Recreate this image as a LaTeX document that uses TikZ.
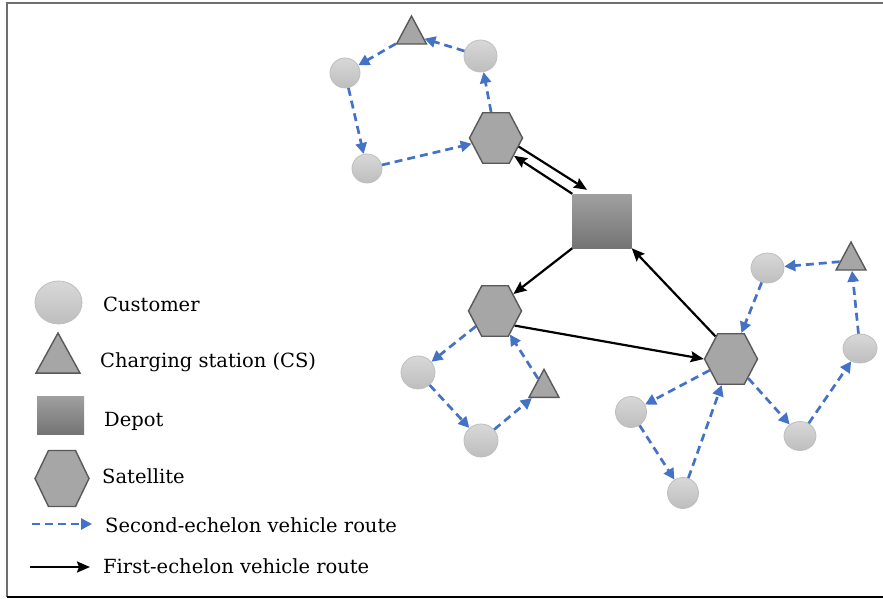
\documentclass[tikz,border=0pt]{standalone}
\usepackage{fontspec}
\setmainfont{DejaVu Serif}
\usepackage{tikz}
\usetikzlibrary{
    arrows.meta,
    shapes.geometric,
    calc
}
\usepackage{xcolor}
\definecolor{routeblue}{RGB}{68,114,196}
\definecolor{satfill}{RGB}{166,166,166}
\definecolor{satline}{RGB}{89,89,89}
\definecolor{custtop}{RGB}{216,216,216}
\definecolor{custbot}{RGB}{190,190,190}
\definecolor{custline}{RGB}{190,190,190}
\definecolor{depottop}{RGB}{160,160,160}
\definecolor{depotbot}{RGB}{116,116,116}
\definecolor{framegray}{RGB}{110,110,110}

\begin{document}
\begin{tikzpicture}[
    x=1pt, y=-1pt,
    customer/.style={
        ellipse, draw=custline, line width=0.8pt,
        top color=custtop, bottom color=custbot,
        minimum width=31pt, minimum height=31pt, inner sep=0pt
    },
    station/.style={
        regular polygon, regular polygon sides=3, draw=satline, line width=1.4pt,
        fill=satfill, minimum size=34.6pt, inner sep=0pt, yscale=1.08
    },
    satellite/.style={
        regular polygon, regular polygon sides=6, draw=satline, line width=1.4pt,
        fill=satfill, minimum size=53pt, inner sep=0pt, yscale=1.1
    },
    depot/.style={
        rectangle, top color=depottop, bottom color=depotbot,
        minimum width=59pt, minimum height=54pt, inner sep=0pt
    },
    route/.style={-{Triangle[length=11pt, width=11pt]}, routeblue, line width=2.7pt,
        dash pattern=on 8pt off 5pt},
    trip/.style={-{Stealth[length=13pt, width=11pt, inset=2pt]}, line width=2.2pt},
    legend/.style={anchor=base west, inner sep=0pt, font=\fontsize{19.5}{23}\selectfont}
]

\useasboundingbox (0,0) rectangle (883,599);
\draw[framegray, line width=1.8pt] (883,3) -- (7,3) -- (7,597);
\draw[black, line width=1.3pt] (7,597) -- (883,597);

% Depot and satellites
\node[depot] (depot) at (602, 221) {};
\node[satellite] (sat1) at (496, 138) {};
\node[satellite] (sat2) at (495, 311) {};
\node[satellite] (sat3) at (731, 359) {};

% Top cluster (sat1)
\node[station] (cs1) at (411.5, 34.7) {};
\node[customer, minimum width=30pt, minimum height=30pt] (c1) at (345, 73) {};
\node[customer, minimum width=33pt, minimum height=32pt] (c2) at (480.5, 56) {};
\node[customer, minimum width=30pt, minimum height=29pt] (c3) at (367, 168.5) {};

% Left cluster (sat2)
\node[customer, minimum width=34pt, minimum height=33pt] (c4) at (418, 372.5) {};
\node[customer, minimum width=34pt, minimum height=33pt] (c5) at (481, 440.5) {};
\node[station] (cs2) at (544, 388) {};

% Right cluster (sat3)
\node[customer] (c6) at (631, 412) {};
\node[customer] (c7) at (683, 493) {};
\node[customer, minimum width=32pt, minimum height=29pt] (c8) at (800, 436) {};
\node[customer, minimum width=34pt, minimum height=29pt] (c9) at (860, 348.5) {};
\node[station] (cs3) at (851, 260.7) {};
\node[customer, minimum width=33pt, minimum height=30pt] (c10) at (767.5, 268) {};

% Second-echelon routes
\draw[route] (sat1) -- (c2);
\draw[route] (c2) -- (cs1);
\draw[route] (cs1) -- (c1);
\draw[route] (c1) -- (c3);
\draw[route] (c3) -- (sat1);

\draw[route] (sat2) -- (c4);
\draw[route] (c4) -- (c5);
\draw[route] (c5) -- (cs2);
\draw[route] (cs2) -- (sat2);

\draw[route] (sat3) -- (c6);
\draw[route] (c6) -- (c7);
\draw[route] (c7) -- (sat3);
\draw[route] (sat3) -- (c8);
\draw[route] (c8) -- (c9);
\draw[route] (c9) -- (cs3);
\draw[route] (cs3) -- (c10);
\draw[route] (c10) -- (sat3);

% First-echelon routes
\draw[trip] (sat1.-19) -- ([shift={(-15,-4)}]depot.north);
\draw[trip] (depot.north west) -- (sat1.-42);
\draw[trip] (depot.south west) -- (sat2.40);
\draw[trip] (sat2.-34) -- (sat3.west);
\draw[trip] (sat3.127) -- (depot.south east);

% Legend
\node[customer, minimum width=47pt, minimum height=43pt] (lcust) at (58.5, 302.5) {};
\node[station, minimum size=50.8pt, yscale=0.975] (lcs) at (58, 359.7) {};
\node[depot, minimum width=47pt, minimum height=38pt] (ldepot) at (60.5, 415) {};
\node[satellite, minimum size=54pt, yscale=1.09] (lsat) at (62, 478.5) {};
\coordinate (ldashA) at (32, 524);
\coordinate (ldashB) at (92, 524);
\coordinate (lsolidA) at (30, 567);
\coordinate (lsolidB) at (90, 567);
\draw[route] (ldashA) -- (ldashB);
\draw[trip] (lsolidA) -- (lsolidB);

\node[legend] (tcust) at (103, 311) {Customer};
\node[legend] (tcs) at (100, 367) {Charging station (CS)};
\node[legend] (tdepot) at (104, 426) {Depot};
\node[legend] (tsat) at (102, 483) {Satellite};
\node[legend] (troute2) at (105, 532) {Second-echelon vehicle route};
\node[legend] (troute1) at (103, 573) {First-echelon vehicle route};

\end{tikzpicture}
\end{document}
